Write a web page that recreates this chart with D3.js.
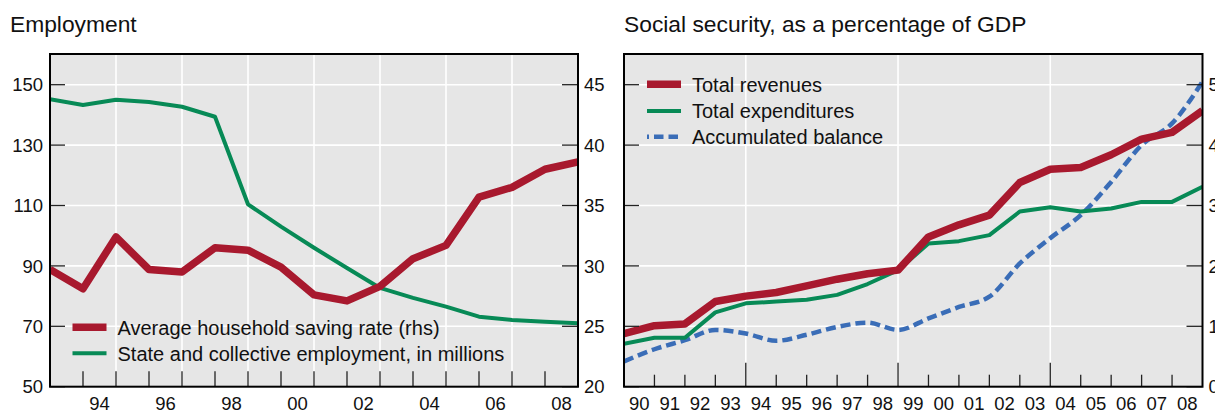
<!DOCTYPE html>
<html><head><meta charset="utf-8">
<script src="https://cdn.jsdelivr.net/npm/d3@7"></script>
<style>
html,body{margin:0;padding:0;background:#fff;}
svg{display:block;}
text{font-family:"Liberation Sans",Arial,Helvetica,sans-serif;fill:#111;}
</style></head>
<body>
<svg id="c" width="1215" height="411"></svg>
<script>
// ---------- DATA ----------
const leftTitle = "Employment";
const rightTitle = "Social security, as a percentage of GDP";
const leftYears = [1992,1993,1994,1995,1996,1997,1998,1999,2000,2001,2002,2003,2004,2005,2006,2007,2008];
const employment = [145.2,143.3,145.0,144.3,142.7,139.4,110.4,103.0,96.0,89.3,82.7,79.4,76.5,73.2,72.1,71.5,71.0];
const savingRate = [29.7,28.1,32.4,29.7,29.5,31.5,31.3,29.9,27.6,27.1,28.3,30.6,31.7,35.7,36.5,38.0,38.6];
const leftXLabels = [1994,1996,1998,2000,2002,2004,2006,2008];
const leftYTicks = [50,70,90,110,130,150];
const leftY2Ticks = [20,25,30,35,40,45];
const leftLegend = ["Average household saving rate (rhs)","State and collective employment, in millions"];

const rightYears = [1989,1990,1991,1992,1993,1994,1995,1996,1997,1998,1999,2000,2001,2002,2003,2004,2005,2006,2007,2008];
const revenues =     [0.88,1.01,1.04,1.41,1.50,1.56,1.67,1.78,1.87,1.93,2.48,2.68,2.84,3.38,3.60,3.63,3.84,4.10,4.21,4.57];
const expenditures = [0.71,0.81,0.81,1.23,1.38,1.41,1.44,1.52,1.70,1.93,2.37,2.41,2.51,2.90,2.97,2.90,2.95,3.06,3.06,3.31];
const balance =      [0.42,0.62,0.77,0.94,0.88,0.76,0.86,0.99,1.06,0.94,1.13,1.32,1.49,2.04,2.46,2.84,3.39,4.00,4.36,5.05];
const rightXLabels = [1990,1991,1992,1993,1994,1995,1996,1997,1998,1999,2000,2001,2002,2003,2004,2005,2006,2007,2008];
const rightLongTicks = [1993,1998,2003];
const rightYTicks = [0,1,2,3,4,5];
const rightLegend = ["Total revenues","Total expenditures","Accumulated balance"];

// ---------- STYLE ----------
const RED = "#a8192e", GREEN = "#078a56", BLUE = "#3a6db7", BG = "#e6e6e6";
const TICKF = "18.5px", LEGF = "20px", TITLEF = "22.8px";

const svg = d3.select("#c");

function panel(opt){
  const g = svg.append("g");
  const {x, y, x0, x1, y0, y1} = opt;
  const id = "clip" + opt.name;
  svg.append("defs").append("clipPath").attr("id", id)
    .append("rect").attr("x", x0).attr("y", y0).attr("width", x1-x0).attr("height", y1-y0);
  g.append("rect").attr("x", x0).attr("y", y0).attr("width", x1-x0).attr("height", y1-y0).attr("fill", BG);
  // gridlines
  g.selectAll(".hg").data(opt.hGrid).join("line")
    .attr("x1", x0).attr("x2", x1).attr("y1", d=>y(d)).attr("y2", d=>y(d))
    .attr("stroke", "#fff").attr("stroke-width", 1.6);
  g.selectAll(".vg").data(opt.vGrid).join("line")
    .attr("y1", y0).attr("y2", y1).attr("x1", d=>x(d)).attr("x2", d=>x(d))
    .attr("stroke", "#fff").attr("stroke-width", 1.6);
  // lines
  const lg = g.append("g").attr("clip-path", `url(#${id})`);
  opt.series.forEach(s=>{
    const line = d3.line().x((d,i)=>x(opt.years[i])).y(d=>s.scale(d));
    if (s.curve) line.curve(s.curve);
    lg.append("path").datum(s.values).attr("d", line)
      .attr("fill","none").attr("stroke", s.color).attr("stroke-width", s.width)
      .attr("stroke-linejoin","round")
      .attr("stroke-dasharray", s.dash || null);
  });
  // ticks
  opt.yTicksLeft.forEach(t=>{
    g.append("line").attr("x1", x0).attr("x2", x0+15).attr("y1", opt.yL(t)).attr("y2", opt.yL(t))
      .attr("stroke","#222").attr("stroke-width",1.3);
  });
  opt.yTicksRight.forEach(t=>{
    g.append("line").attr("x1", x1-16).attr("x2", x1).attr("y1", opt.yR(t)).attr("y2", opt.yR(t))
      .attr("stroke","#222").attr("stroke-width",1.3);
  });
  opt.xTicks.forEach(t=>{
    const len = opt.longTicks && opt.longTicks.includes(t) ? 24 : opt.tickLen;
    g.append("line").attr("x1", x(t)).attr("x2", x(t)).attr("y1", y1-len).attr("y2", y1)
      .attr("stroke","#222").attr("stroke-width",1.3);
  });
  // border
  g.append("rect").attr("x", x0).attr("y", y0).attr("width", x1-x0).attr("height", y1-y0)
    .attr("fill","none").attr("stroke","#000").attr("stroke-width",2);
  // tick labels
  if (opt.yLabelsLeft) opt.yLabelsLeft.forEach(t=>{
    g.append("text").attr("x", x0-7).attr("y", opt.yL(t)).attr("dy","0.36em")
      .attr("text-anchor","end").style("font-size",TICKF).text(t);
  });
  if (opt.yLabelsRight) opt.yLabelsRight.forEach(t=>{
    g.append("text").attr("x", x1+6).attr("y", opt.yR(t)).attr("dy","0.36em")
      .attr("text-anchor","start").style("font-size",TICKF).text(t);
  });
  opt.xLabels.forEach(t=>{
    g.append("text").attr("x", x(t-0.5)).attr("y", 410)
      .attr("text-anchor","middle").style("font-size",TICKF).text(String(t).slice(2));
  });
  // title
  svg.append("text").attr("x", opt.titleX).attr("y", 32).style("font-size",TITLEF).text(opt.title);
  // legend
  opt.legend.forEach((L,i)=>{
    const ly = opt.legY[i];
    g.append("line").attr("x1", opt.legX).attr("x2", opt.legX+34).attr("y1", ly).attr("y2", ly)
      .attr("stroke", L.color).attr("stroke-width", L.width)
      .attr("stroke-dasharray", L.dash || null).attr("stroke-dashoffset", L.dashOffset || 0);
    g.append("text").attr("x", opt.legX+45).attr("y", ly).attr("dy","0.36em")
      .style("font-size",LEGF).text(L.text);
  });
}

// ---------- LEFT PANEL ----------
const lx0 = 50, lx1 = 578, py0 = 54, py1 = 386.7;
const lx = d3.scaleLinear().domain([leftYears[0], leftYears[leftYears.length-1]]).range([lx0, lx1]);
const lyL = d3.scaleLinear().domain([50,160]).range([py1, 54.5]);
const lyR = d3.scaleLinear().domain([20,47.5]).range([py1, 54.5]);
panel({
  name:"L", x:lx, y:lyL, x0:lx0, x1:lx1, y0:py0, y1:py1, years:leftYears,
  hGrid: leftYTicks.slice(1), vGrid: leftXLabels.filter(d=>d<2008),
  series:[
    {values: employment, scale: lyL, color: GREEN, width: 4},
    {values: savingRate, scale: lyR, color: RED, width: 7.5}
  ],
  yL: lyL, yR: lyR, yTicksLeft: leftYTicks, yTicksRight: leftY2Ticks,
  yLabelsLeft: leftYTicks, yLabelsRight: leftY2Ticks,
  xTicks: leftYears.slice(1,-1), tickLen: 15.5,
  xLabels: leftXLabels, title: leftTitle, titleX: 10,
  legX: 72.5, legY: [327.3, 353.3],
  legend:[
    {text:leftLegend[0], color:RED, width:7.5},
    {text:leftLegend[1], color:GREEN, width:4}
  ]
});

// ---------- RIGHT PANEL ----------
const rx0 = 624, rx1 = 1202.5;
const rx = d3.scaleLinear().domain([rightYears[0], rightYears[rightYears.length-1]]).range([rx0, rx1]);
const ry = d3.scaleLinear().domain([0,5.5]).range([py1, 54.5]);
panel({
  name:"R", x:rx, y:ry, x0:rx0, x1:rx1, y0:py0, y1:py1, years:rightYears,
  hGrid: rightYTicks.slice(1), vGrid: rightLongTicks,
  series:[
    {values: balance, scale: ry, color: BLUE, width: 4.5, dash:"10,5", curve:d3.curveMonotoneX},
    {values: expenditures, scale: ry, color: GREEN, width: 4},
    {values: revenues, scale: ry, color: RED, width: 7.5}
  ],
  yL: ry, yR: ry, yTicksLeft: rightYTicks, yTicksRight: rightYTicks,
  yLabelsLeft: null, yLabelsRight: rightYTicks,
  xTicks: rightYears.slice(1,-1), tickLen: 12, longTicks: rightLongTicks,
  xLabels: rightXLabels, title: rightTitle, titleX: 624,
  legX: 647, legY: [84.3, 111, 136.7],
  legend:[
    {text:rightLegend[0], color:RED, width:7.5},
    {text:rightLegend[1], color:GREEN, width:4},
    {text:rightLegend[2], color:BLUE, width:4.5, dash:"9.5,5", dashOffset:7.5}
  ]
});
</script>
</body></html>
